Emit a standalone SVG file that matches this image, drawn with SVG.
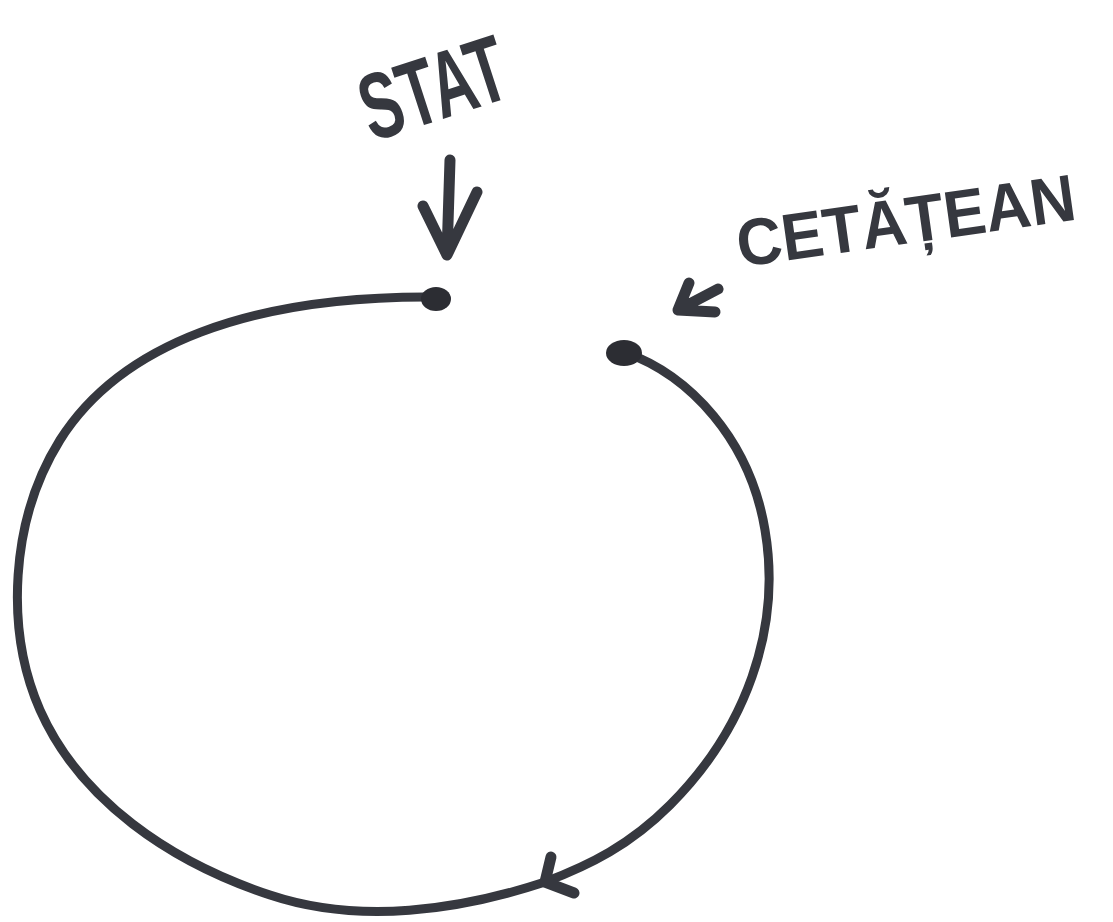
<svg xmlns="http://www.w3.org/2000/svg" width="1113" height="922" viewBox="0 0 1113 922">
<style>
.ink{fill:none;stroke:#36383f;stroke-linecap:round;stroke-linejoin:round}
.line{stroke-width:9}
.arr{stroke-width:11}
.dot{fill:#2c2d33}
.lbl{font-family:"Liberation Sans",Arial,sans-serif;font-weight:bold;fill:#36383f}
</style>
<rect width="1113" height="922" fill="#ffffff"/>
<g id="connectors">
<path class="ink line" d="M624,352 C690,375 750,440 765,530 C782,630 745,730 670,805 C630,845 590,865 545,882 C460,910 360,925 270,895 C170,862 80,800 40,710 C5,630 10,520 60,440 C120,345 250,295 437,297"/>
<path class="ink arr" d="M551,857 L545,882 L574,893"/>
<path class="ink arr" d="M450,160 L447,255 M423,206 L447,255 L477,192"/>
<path class="ink arr" d="M718,289 L678,310 M689,283 L678,310 L715,312"/>
</g>
<g id="node-stat">
<ellipse class="dot" cx="436" cy="299" rx="15" ry="12"/>
<text class="lbl" x="0" y="0" font-size="94" transform="translate(372,142) rotate(-18) scale(0.645,1)">STAT</text>
</g>
<g id="node-cetatean">
<ellipse class="dot" cx="624" cy="353" rx="18" ry="13"/>
<text class="lbl" x="0" y="0" font-size="66" transform="translate(740,267) rotate(-8) scale(0.95,1)">CETĂȚEAN</text>
</g>
</svg>
